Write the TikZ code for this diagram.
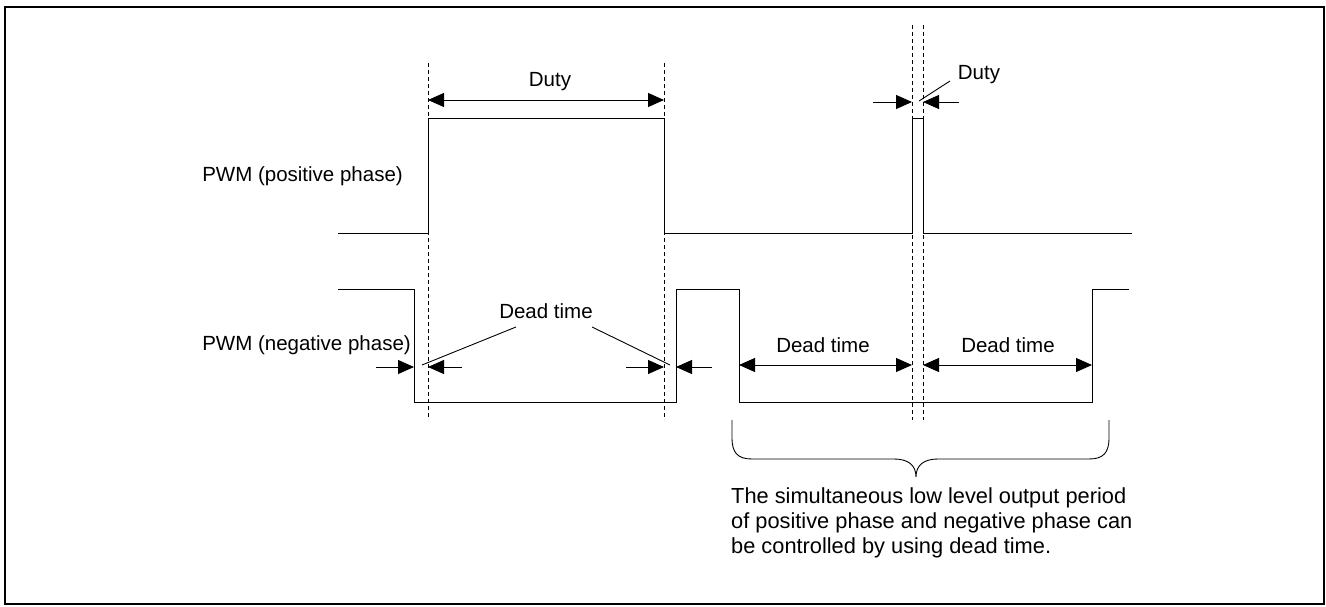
\documentclass[tikz,border=0pt]{standalone}
\usepackage{fontspec}
\setmainfont{Liberation Sans}
\usetikzlibrary{arrows.meta}
\begin{document}
\begin{tikzpicture}[x=1pt,y=-1pt,
  wave/.style={line width=1pt, line join=miter},
  guide/.style={line width=0.9pt, dash pattern=on 4pt off 3pt},
  tip/.tip={Triangle[length=16pt,width=14pt]},
  dim/.style={line width=0.9pt, -tip},
  dimboth/.style={line width=0.9pt, tip-tip},
  leader/.style={line width=0.9pt},
  lbl/.style={inner sep=0pt, font=\fontsize{20.5}{25}\selectfont},
  caplbl/.style={inner sep=0pt, font=\fontsize{21.8}{25}\selectfont},
  every node/.style={inner sep=0pt}]
\useasboundingbox (0,0) rectangle (1326,607);
\draw[line width=1.5pt] (5,7) rectangle (1324,604);

% dashed guides
\draw[guide] (428,63) -- (428,420);
\draw[guide] (664,63) -- (664,420);
\draw[guide] (912,25) -- (912,420);
\draw[guide] (923,25) -- (923,420);

% positive phase
\draw[wave] (338,233) -- (428,233) -- (428,119) -- (664,119) -- (664,233)
  -- (912,233) -- (912,119) -- (923,119) -- (923,233) -- (1132,233);
% negative phase
\draw[wave] (338,289) -- (414,289) -- (414,402) -- (676,402) -- (676,289)
  -- (739,289) -- (739,402) -- (1092,402) -- (1092,289) -- (1129,289);

% signal labels
\node[lbl, anchor=east] (lpos) at (403,176) {PWM (positive phase)};
\node[lbl, anchor=east] (lneg) at (411,345) {PWM (negative phase)};

% duty, wide pulse
\coordinate (d1) at (428,100);
\coordinate (d2) at (664,100);
\draw[dimboth] (d1) -- (d2);
\node[lbl] (duty1) at (550,82) {Duty};

% duty, narrow pulse
\coordinate (n1s) at (873,102);
\coordinate (n1e) at (912,102);
\coordinate (n2s) at (959,102);
\coordinate (n2e) at (923,102);
\draw[dim] (n1s) -- (n1e);
\draw[dim] (n2s) -- (n2e);
\node[lbl] (duty2) at (979,75) {Duty};
\coordinate (dl1) at (919,101);
\coordinate (dl2) at (950,81);
\draw[leader] (dl1) -- (dl2);

% dead time, outside arrows
\coordinate (a1s) at (376,367); \coordinate (a1e) at (414,367);
\coordinate (a2s) at (462,367); \coordinate (a2e) at (428,367);
\coordinate (a3s) at (626,367); \coordinate (a3e) at (664,367);
\coordinate (a4s) at (712,367); \coordinate (a4e) at (676,367);
\draw[dim] (a1s) -- (a1e);
\draw[dim] (a2s) -- (a2e);
\draw[dim] (a3s) -- (a3e);
\draw[dim] (a4s) -- (a4e);
\node[lbl] (dt1) at (546,311) {Dead time};
\coordinate (l1a) at (516,327); \coordinate (l1b) at (422,365);
\coordinate (l2a) at (592,327); \coordinate (l2b) at (670,365);
\draw[leader] (l1a) -- (l1b);
\draw[leader] (l2a) -- (l2b);

% dead time, inside arrows
\coordinate (b1) at (739,365); \coordinate (b2) at (912,365);
\coordinate (b3) at (923,365); \coordinate (b4) at (1092,365);
\draw[dimboth] (b1) -- (b2);
\draw[dimboth] (b3) -- (b4);
\node[lbl] (dt2) at (823,345) {Dead time};
\node[lbl] (dt3) at (1008,345) {Dead time};

% brace
\draw[line width=0.9pt] (732,420) -- (732,438)
  .. controls (732,453) and (738,459) .. (752,459) -- (894,459)
  .. controls (908,459) and (916,465) .. (916,477)
  .. controls (916,465) and (924,459) .. (938,459) -- (1089,459)
  .. controls (1103,459) and (1109,453) .. (1109,438) -- (1109,420);

% caption
\node[caplbl, anchor=north west, align=left] (cap) at (731,487)
  {The simultaneous low level output period\\
   of positive phase and negative phase can\\
   be controlled by using dead time.};
\end{tikzpicture}
\end{document}
